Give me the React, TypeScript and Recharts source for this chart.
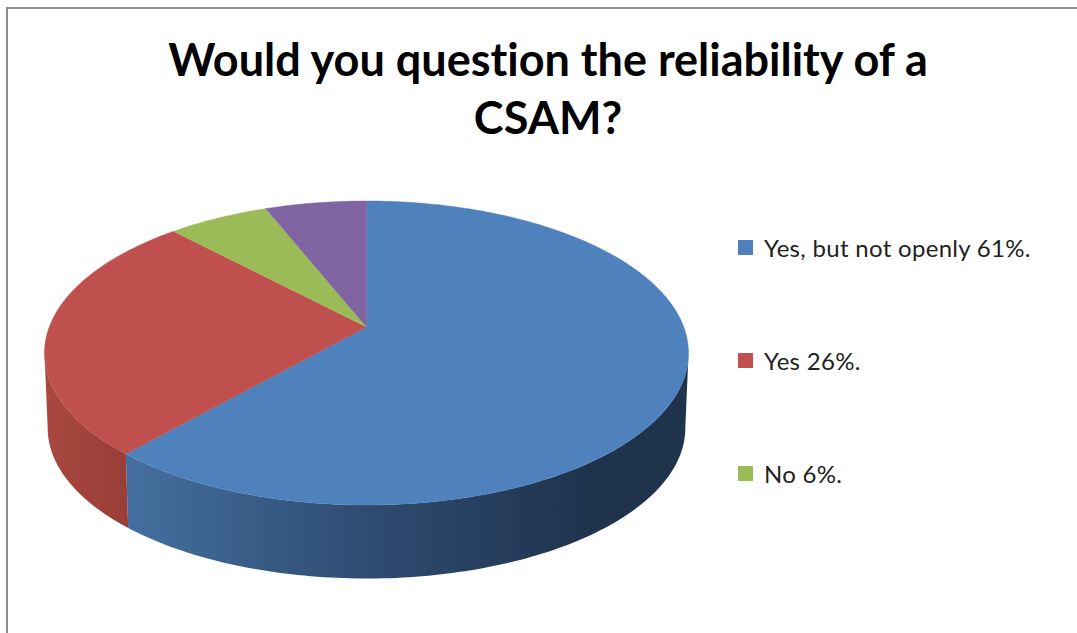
import React from 'react';
import { PieChart, Pie, Cell, Legend } from 'recharts';

const categories = ['Yes, but not openly 61%.', 'Yes 26%.', 'No 6%.', 'Other'];
const shares = [61.5, 26.5, 6, 6];
const colors = ['#4f81bd', '#c0504d', '#9bbb59', '#8064a2'];
const wallFills = ['url(#wallBlue)', 'url(#wallRed)', 'none', 'none'];
const legendCount = 3;

const data = categories.map((name, i) => ({ name, value: shares[i] }));

// perspective of the tilted disc
const CX = 366.5;
const CY = 327;
const A = 317.3;
const B = 147.6;
const K = 0.171;
const MID_Y = 353;
const DEPTH = 75;
const WALL_SCALE = 0.99;
const FRONT_START = -170.2; // left silhouette, degrees
const FRONT_END = -9.8; // right silhouette

const project = (deg: number) => {
  const r = (deg * Math.PI) / 180;
  const u = Math.cos(r);
  const v = Math.sin(r);
  const d = 1 + K * v;
  return { x: CX + (A * u) / d, y: CY - (B * v) / d };
};

const lower = (p: { x: number; y: number }) => ({
  x: CX + (p.x - CX) * WALL_SCALE,
  y: MID_Y + (p.y - MID_Y) * WALL_SCALE + DEPTH,
});

const arc = (from: number, to: number) => {
  const n = Math.max(2, Math.ceil(Math.abs(to - from)));
  const pts = [];
  for (let i = 0; i <= n; i++) pts.push(project(from + ((to - from) * i) / n));
  return pts;
};

const toPath = (pts: { x: number; y: number }[]) =>
  'M' + pts.map((p) => `${p.x.toFixed(2)},${p.y.toFixed(2)}`).join('L') + 'Z';

const TiltedSector = (props: any) => {
  const { startAngle, endAngle, fill, index } = props;
  const top = arc(startAngle, endAngle);
  const hi = Math.min(startAngle, FRONT_END);
  const lo = Math.max(endAngle, FRONT_START);
  const wallFill = wallFills[index];
  let wall = null;
  if (hi > lo && wallFill !== 'none') {
    const edge = arc(hi, lo);
    wall = <path d={toPath([...edge, ...edge.map(lower).reverse()])} fill={wallFill} stroke="none" />;
  }
  return (
    <g>
      {wall}
      <path d={toPath([{ x: CX, y: CY }, ...top])} fill={fill} stroke={fill} strokeWidth={0.4} />
    </g>
  );
};

const LegendList = ({ payload }: any) => (
  <div>
    {(payload || []).slice(0, legendCount).map((item: any, i: number) => (
      <div
        key={item.value}
        style={{ position: 'absolute', left: 0, top: i * 113, height: 30, display: 'flex', alignItems: 'center', whiteSpace: 'nowrap' }}
      >
        <span style={{ width: 15, height: 15, background: colors[i], marginRight: 11 }} />
        <span style={{ fontFamily: 'Lato', fontSize: 24, color: '#222', fontVariantLigatures: 'none', letterSpacing: 0.3 }}>{item.value}</span>
      </div>
    ))}
  </div>
);

export default function App() {
  return (
    <div style={{ position: 'absolute', left: 0, top: 0, width: 1077, height: 633, overflow: 'hidden', background: '#fff' }}>
      <div style={{ position: 'absolute', left: 6, top: 7, width: 1100, height: 700, border: '2px solid #8e8e8e' }} />
      <div
        style={{
          position: 'absolute',
          left: 0,
          width: 1096,
          top: 30,
          textAlign: 'center',
          fontFamily: 'Lato',
          fontWeight: 700,
          fontSize: 45,
          lineHeight: '58px',
          color: '#000',
          fontVariantLigatures: 'none',
        }}
      >
        Would you question the reliability of a
        <br />
        CSAM?
      </div>
      <div style={{ position: 'absolute', left: 0, top: 0 }}>
        <PieChart width={1077} height={633} margin={{ top: 0, right: 0, bottom: 0, left: 0 }}>
          <defs>
            <linearGradient id="wallBlue" gradientUnits="userSpaceOnUse" x1="125" y1="0" x2="590" y2="0">
              <stop offset="0" stopColor="#44709f" />
              <stop offset="0.5" stopColor="#2f4d73" />
              <stop offset="1" stopColor="#1f334d" />
            </linearGradient>
            <linearGradient id="wallRed" gradientUnits="userSpaceOnUse" x1="47" y1="0" x2="130" y2="0">
              <stop offset="0" stopColor="#a9483f" />
              <stop offset="1" stopColor="#983d38" />
            </linearGradient>
          </defs>
          <Pie
            data={data}
            dataKey="value"
            nameKey="name"
            cx={CX}
            cy={CY}
            outerRadius={150}
            startAngle={90}
            endAngle={-270}
            stroke="none"
            shape={TiltedSector}
            isAnimationActive={false}
          >
            {data.map((d, i) => (
              <Cell key={d.name} fill={colors[i]} />
            ))}
          </Pie>
          <Legend
            content={<LegendList />}
            layout="vertical"
            itemSorter={null}
            wrapperStyle={{ position: 'absolute', left: 738, top: 232, width: 330, height: 300 }}
          />
        </PieChart>
      </div>
    </div>
  );
}
